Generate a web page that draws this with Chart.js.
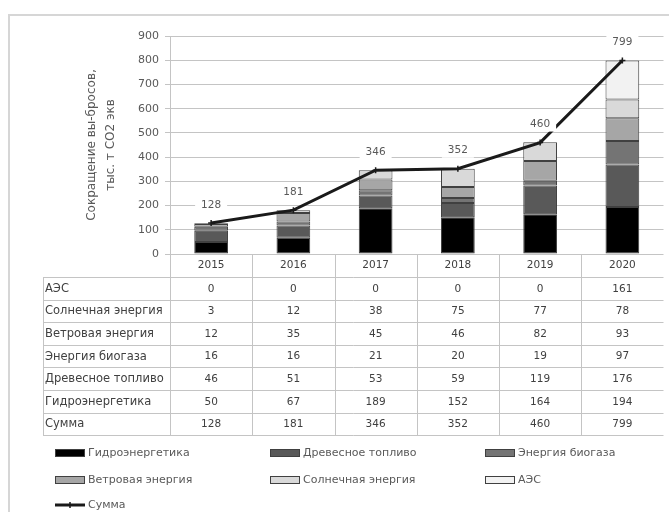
<!DOCTYPE html>
<html>
<head>
<meta charset="utf-8">
<script src="https://cdn.jsdelivr.net/npm/chart.js@4.4.1/dist/chart.umd.min.js"></script>
<style>
  html, body { margin: 0; padding: 0; background: #fff; }
  #wrap { width: 669px; height: 512px; position: relative; }
  canvas { display: block; }
</style>
</head>
<body>
<div id="wrap"><canvas id="c" width="669" height="512"></canvas></div>
<script>
// Categories (years)
const years = ['2015', '2016', '2017', '2018', '2019', '2020'];

// Emission reductions by source, thousand t CO2-eq
const hydro   = [50, 67, 189, 152, 164, 194];
const wood    = [46, 51, 53, 59, 119, 176];
const biogas  = [16, 16, 21, 20, 19, 97];
const wind    = [12, 35, 45, 46, 82, 93];
const solar   = [3, 12, 38, 75, 77, 78];
const nuclear = [0, 0, 0, 0, 0, 161];
const total   = [128, 181, 346, 352, 460, 799];

// Series names
const names = ['Гидроэнергетика', 'Древесное топливо', 'Энергия биогаза',
               'Ветровая энергия', 'Солнечная энергия', 'АЭС'];
const totalName = 'Сумма';

const FONT = 'DejaVu Sans';
const TEXT = '#595959';
const GRID = '#c4c4c4';

const seriesValues = [hydro, wood, biogas, wind, solar, nuclear];
const fills = ['#000000', '#595959', '#747474', '#a6a6a6', '#d9d9d9', '#f2f2f2'];

const barSets = seriesValues.map((vals, i) => ({
  type: 'bar',
  label: names[i],
  data: vals,
  backgroundColor: fills[i],
  borderColor: '#404040',
  borderWidth: c => (c.raw ? 1 : 0),
  borderSkipped: false,
  stack: 'sources',
  order: 2,
  categoryPercentage: 1,
  barPercentage: 0.41
}));

const lineSet = {
  type: 'line',
  label: totalName,
  data: total,
  borderColor: '#1a1a1a',
  backgroundColor: '#1a1a1a',
  borderWidth: 3,
  pointStyle: 'cross',
  pointRadius: 3,
  pointBorderWidth: 1.5,
  stack: 'sum',
  order: 1,
  tension: 0
};

// Outer frame (left and top edge)
const framePlugin = {
  id: 'frame',
  beforeDraw(chart) {
    const ctx = chart.ctx;
    ctx.save();
    ctx.fillStyle = '#fff';
    ctx.fillRect(0, 0, chart.width, chart.height);
    ctx.strokeStyle = '#d6d6d6';
    ctx.lineWidth = 2;
    ctx.beginPath();
    ctx.moveTo(9, chart.height);
    ctx.lineTo(9, 15);
    ctx.lineTo(chart.width, 15);
    ctx.stroke();
    ctx.restore();
  }
};

// Data table under the plot, aligned with the category axis
const tablePlugin = {
  id: 'dataTable',
  afterDraw(chart) {
    const ctx = chart.ctx;
    const xs = chart.scales.x;
    const area = chart.chartArea;
    const rows = [];
    for (let i = seriesValues.length - 1; i >= 0; i--) rows.push([names[i], seriesValues[i]]);
    rows.push([totalName, total]);

    const left = 43;
    const headerTop = area.bottom;
    const firstRow = headerTop + 23;
    const rowH = 22.6;
    const bottom = firstRow + rows.length * rowH;

    ctx.save();
    ctx.strokeStyle = GRID;
    ctx.lineWidth = 1;
    ctx.beginPath();
    for (let r = 0; r <= rows.length; r++) {
      const y = Math.round(firstRow + r * rowH) + 0.5;
      ctx.moveTo(left, y);
      ctx.lineTo(area.right, y);
    }
    ctx.moveTo(left + 0.5, Math.round(firstRow) + 0.5);
    ctx.lineTo(left + 0.5, Math.round(bottom) + 0.5);
    const n = years.length;
    for (let i = 0; i < n; i++) {
      const xb = i === 0 ? area.left : (xs.getPixelForValue(i - 1) + xs.getPixelForValue(i)) / 2;
      const px = Math.round(xb) + 0.5;
      ctx.moveTo(px, headerTop);
      ctx.lineTo(px, Math.round(bottom) + 0.5);
    }
    ctx.stroke();

    ctx.fillStyle = '#404040';
    ctx.textBaseline = 'middle';
    rows.forEach((row, r) => {
      const cy = firstRow + r * rowH + rowH / 2 + 0.5;
      ctx.textAlign = 'left';
      ctx.font = '11.5px "' + FONT + '"';
      ctx.fillText(row[0], left + 2, cy, 124);
      ctx.textAlign = 'center';
      ctx.font = '10.5px "' + FONT + '"';
      row[1].forEach((v, i) => ctx.fillText(String(v), xs.getPixelForValue(i), cy));
    });
    ctx.restore();
  }
};

// Value labels over the total line
const labelPlugin = {
  id: 'totalLabels',
  afterDatasetsDraw(chart) {
    const ctx = chart.ctx;
    const idx = chart.data.datasets.findIndex(d => d.type === 'line');
    const meta = chart.getDatasetMeta(idx);
    ctx.save();
    ctx.font = '10.5px "' + FONT + '"';
    ctx.textAlign = 'center';
    ctx.textBaseline = 'middle';
    meta.data.forEach((pt, i) => {
      const txt = String(chart.data.datasets[idx].data[i]);
      const cx = pt.x, cy = pt.y - 18;
      ctx.fillStyle = '#fff';
      ctx.fillRect(cx - 16, cy - 7, 32, 14);
      ctx.fillStyle = TEXT;
      ctx.fillText(txt, cx, cy);
    });
    ctx.restore();
  }
};

// Legend laid out in three columns below the table
const legendPlugin = {
  id: 'gridLegend',
  afterDraw(chart) {
    const ctx = chart.ctx;
    const cols = [55, 270, 485];
    const rowsY = [453, 480, 505];
    ctx.save();
    ctx.font = '11px "' + FONT + '"';
    ctx.textBaseline = 'middle';
    ctx.textAlign = 'left';
    chart.data.datasets.forEach((ds, k) => {
      const col = k % 3, row = Math.floor(k / 3);
      const x = cols[col], y = rowsY[row];
      if (ds.type === 'bar') {
        ctx.fillStyle = ds.backgroundColor;
        ctx.fillRect(x, y - 4, 30, 8);
        ctx.strokeStyle = '#404040';
        ctx.lineWidth = 1;
        ctx.strokeRect(x + 0.5, y - 3.5, 29, 7);
      } else {
        ctx.strokeStyle = ds.borderColor;
        ctx.lineWidth = 3;
        ctx.beginPath();
        ctx.moveTo(x, y);
        ctx.lineTo(x + 30, y);
        ctx.stroke();
        ctx.lineWidth = 1.5;
        ctx.beginPath();
        ctx.moveTo(x + 15, y - 3);
        ctx.lineTo(x + 15, y + 3);
        ctx.stroke();
      }
      ctx.fillStyle = TEXT;
      ctx.fillText(ds.label, x + 33, y + 0.5);
    });
    ctx.restore();
  }
};

new Chart(document.getElementById('c'), {
  data: {
    labels: years,
    datasets: [...barSets, lineSet]
  },
  options: {
    responsive: false,
    animation: false,
    devicePixelRatio: 1,
    layout: { padding: { left: 79, top: 36, right: 2, bottom: 0 } },
    plugins: {
      legend: { display: false },
      tooltip: { enabled: false }
    },
    scales: {
      x: {
        stacked: true,
        grid: { display: false, drawTicks: false },
        border: { display: false },
        ticks: { color: '#404040', font: { family: FONT, size: 10.5 }, padding: 5 },
        afterFit: s => { s.height = 258; }
      },
      y: {
        stacked: true,
        min: 0,
        max: 900,
        ticks: { stepSize: 100, color: TEXT, font: { family: FONT, size: 11 }, padding: 6 },
        grid: { color: GRID, tickLength: 5 },
        border: { display: true, color: GRID },
        title: {
          display: true,
          text: ['Сокращение вы-бросов,', 'тыс. т СО2 экв'],
          color: TEXT,
          font: { family: FONT, size: 12, lineHeight: 1.55 },
          padding: { top: 4, bottom: 4 }
        },
        afterFit: s => { s.width = 91; }
      }
    }
  },
  plugins: [framePlugin, tablePlugin, labelPlugin, legendPlugin]
});
</script>
</body>
</html>
